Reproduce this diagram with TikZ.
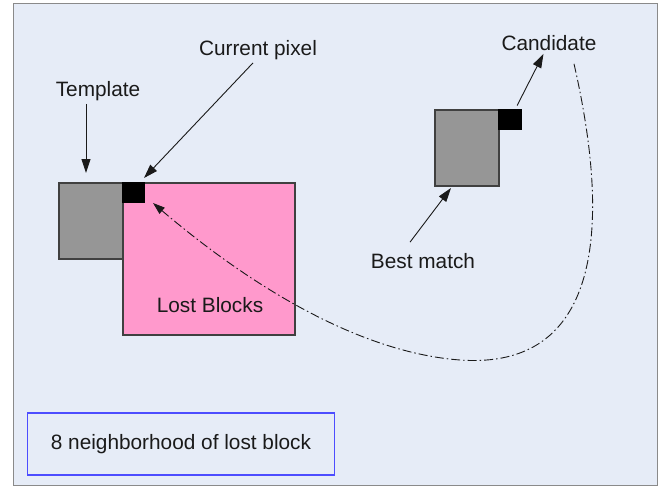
\documentclass[tikz,border=0pt]{standalone}
\usepackage{fontspec}
\setmainfont{Liberation Sans}
\usetikzlibrary{arrows.meta}

\definecolor{canvas}{HTML}{E6ECF7}
\definecolor{framegray}{HTML}{8A8A8A}
\definecolor{blockedge}{HTML}{404040}
\definecolor{tplgray}{HTML}{969696}
\definecolor{lostpink}{HTML}{FF99CC}
\definecolor{noteblue}{HTML}{4D4DFF}
\definecolor{ink}{HTML}{1A1A1A}

\tikzset{
  lbl/.style={inner sep=3pt, text=ink},
  block/.style={draw=blockedge, line width=1.3pt, inner sep=0pt, outer sep=0pt},
  tplblock/.style={block, fill=tplgray, minimum width=64pt, minimum height=76pt},
  pixelsq/.style={block, fill=black, draw=black},
  pointer/.style={draw=ink, line width=0.9pt,
    -{Triangle[length=14pt,width=9pt]}},
  searchpath/.style={draw=ink, line width=0.9pt,
    dash pattern=on 9pt off 3pt on 1.5pt off 3pt,
    -{Triangle[length=12pt,width=8pt]}},
  notebox/.style={draw=noteblue, line width=1.3pt, minimum width=307pt,
    minimum height=62pt, inner sep=0pt}
}

\begin{document}
\begin{tikzpicture}[x=1pt, y=-1pt, font=\fontsize{20.8}{25}\selectfont]
\useasboundingbox (0,0) rectangle (667,488);

% canvas frame
\draw[draw=framegray, fill=canvas, line width=1pt] (13,3) rectangle (657,485);

% template, lost region and current pixel
\node[tplblock] (tplA) at (91,221) {};
\node[block, fill=lostpink, minimum width=172pt, minimum height=152pt] (lost) at (209,259) {};
\node[pixelsq, minimum width=21pt, minimum height=19pt] (curSq) at (133.5,192.5) {};
\node[lbl] (lostlbl) at (210,305) {Lost Blocks};

% best match and its candidate pixel
\node[tplblock] (bestBlk) at (467,148) {};
\node[pixelsq, minimum width=22pt, minimum height=19pt] (candSq) at (510,119.5) {};

% labels
\node[lbl] (tmpl) at (98,91) {Template};
\node[lbl] (cur) at (258,50) {Current pixel};
\node[lbl] (cand) at (549,43) {Candidate};
\node[lbl] (best) at (423,261) {Best match};

% pointers
\coordinate (tmplTip) at (86,173);
\draw[pointer] (tmpl.south -| tmplTip) -- (tmplTip);
\draw[pointer] ([xshift=-5pt]cur.south) -- ([shift={(0pt,5pt)}]curSq.north east);
\draw[pointer, shorten <=5pt] (candSq) -- (cand);
\draw[pointer] ([xshift=-13pt,yshift=8pt]best.north) -- ([xshift=-16pt,yshift=-2pt]bestBlk.south);

% search path from the candidate back to the current pixel
\draw[searchpath] ([xshift=25pt,yshift=-10pt]cand.south)
  .. controls (612,230) and (600,370) .. (460,360)
  .. controls (340,351) and (220,260) .. ([shift={(9pt,-1pt)}]curSq.south east);

% legend
\node[notebox, text=ink] (note) at (181,444) {8 neighborhood of lost block};
\end{tikzpicture}
\end{document}
